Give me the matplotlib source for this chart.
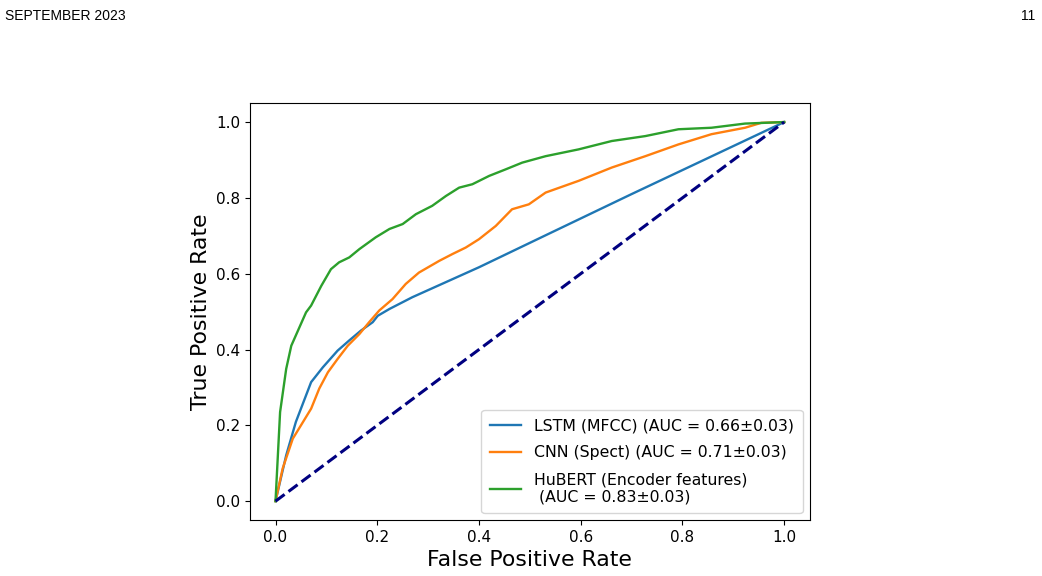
import matplotlib.pyplot as plt

# ROC points (false positive rate, true positive rate)
lstm_fpr = [0.0, 0.021, 0.04, 0.07, 0.093, 0.122, 0.145, 0.168, 0.191, 0.201, 0.224, 0.269, 0.4, 0.518, 0.7, 0.85, 1.0]
lstm_tpr = [0.0, 0.121, 0.209, 0.314, 0.353, 0.397, 0.424, 0.45, 0.472, 0.489, 0.507, 0.538, 0.617, 0.693, 0.81, 0.905, 1.0]

cnn_fpr = [0.0, 0.014, 0.034, 0.05, 0.07, 0.086, 0.103, 0.122, 0.142, 0.165, 0.184, 0.204, 0.23, 0.256,
           0.282, 0.322, 0.348, 0.374, 0.4, 0.433, 0.465, 0.498, 0.531, 0.596, 0.661, 0.727, 0.792,
           0.857, 0.923, 0.955, 1.0]
cnn_tpr = [0.0, 0.086, 0.165, 0.2, 0.244, 0.297, 0.34, 0.375, 0.41, 0.441, 0.472, 0.503, 0.533, 0.573,
           0.603, 0.634, 0.652, 0.669, 0.691, 0.726, 0.77, 0.783, 0.814, 0.845, 0.88, 0.91, 0.941,
           0.968, 0.985, 0.998, 1.0]

hubert_fpr = [0.0, 0.009, 0.021, 0.031, 0.06, 0.07, 0.09, 0.109, 0.125, 0.145, 0.165, 0.197, 0.224, 0.25,
              0.276, 0.308, 0.335, 0.361, 0.387, 0.42, 0.452, 0.485, 0.531, 0.596, 0.661, 0.727, 0.792,
              0.857, 0.923, 1.0]
hubert_tpr = [0.0, 0.235, 0.349, 0.41, 0.498, 0.516, 0.568, 0.612, 0.63, 0.643, 0.665, 0.696, 0.718, 0.731,
              0.757, 0.779, 0.805, 0.827, 0.836, 0.858, 0.875, 0.893, 0.91, 0.928, 0.95, 0.963, 0.981,
              0.985, 0.996, 1.0]

labels = ['LSTM (MFCC) (AUC = 0.66±0.03)',
          'CNN (Spect) (AUC = 0.71±0.03)',
          'HuBERT (Encoder features)\n (AUC = 0.83±0.03)']

fig = plt.figure(figsize=(10.42, 5.76), dpi=100)
ax = fig.add_axes([0.24, 0.097, 0.537, 0.724])

ax.plot(lstm_fpr, lstm_tpr, color='#1f77b4', lw=1.7, label=labels[0])
ax.plot(cnn_fpr, cnn_tpr, color='#ff7f0e', lw=1.7, label=labels[1])
ax.plot(hubert_fpr, hubert_tpr, color='#2ca02c', lw=1.7, label=labels[2])
ax.plot([0, 1], [0, 1], color='navy', lw=2.2, linestyle='--')

ax.set_xlabel('False Positive Rate', fontsize=15.8)
ax.set_ylabel('True Positive Rate', fontsize=15.8)
ax.tick_params(labelsize=11)
ax.legend(loc='lower right', fontsize=11.3, labelspacing=0.75, borderpad=0.55,
          handlelength=2.0, borderaxespad=0.45)

# page header around the figure
fig.text(0.005, 0.985, 'SEPTEMBER 2023', fontsize=10, family='Liberation Sans', va='top')
fig.text(0.994, 0.985, '11', fontsize=10, family='Liberation Sans', va='top', ha='right')

fig.savefig('out.png', dpi=100)
